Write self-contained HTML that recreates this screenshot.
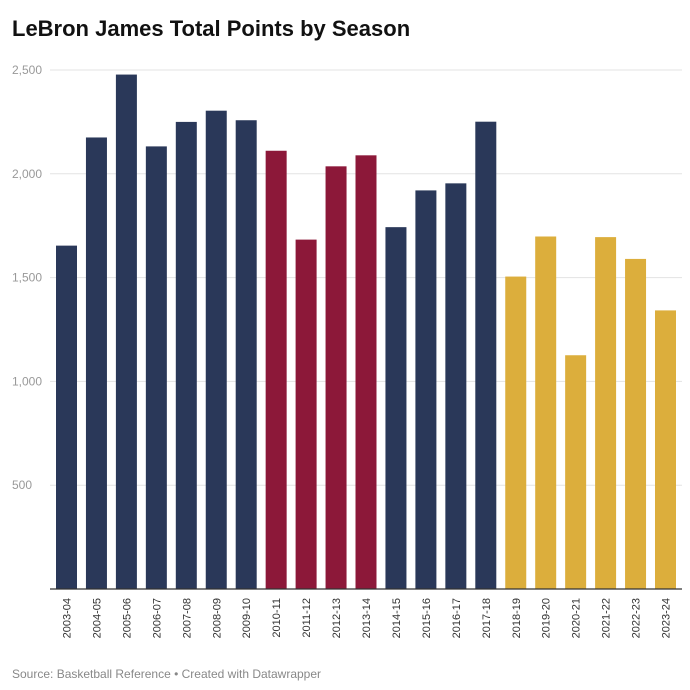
<!DOCTYPE html>
<html><head><meta charset="utf-8"><style>
body{margin:0;background:#fff;font-family:"Liberation Sans",sans-serif;}
#c{position:relative;width:690px;height:690px;overflow:hidden;}
</style></head><body>
<div id="c">
<svg id="svg" width="690" height="690">
<text x="12" y="36" font-size="22" font-weight="bold" fill="#111">LeBron James Total Points by Season</text>
<g id="grid"></g><g id="bars"></g><g id="xl"></g>
<line x1="50" x2="682" y1="589" y2="589" stroke="#333" stroke-width="1.2"/>
<text x="12" y="678" font-size="12" fill="#888">Source: Basketball Reference • Created with Datawrapper</text>
</svg></div>
<script>
const seasons=["2003-04","2004-05","2005-06","2006-07","2007-08","2008-09","2009-10","2010-11","2011-12","2012-13","2013-14","2014-15","2015-16","2016-17","2017-18","2018-19","2019-20","2020-21","2021-22","2022-23","2023-24"];
const points=[1654,2175,2478,2132,2250,2304,2258,2111,1683,2036,2089,1743,1920,1954,2251,1505,1698,1126,1695,1590,1342];
const teams=["CLE","CLE","CLE","CLE","CLE","CLE","CLE","MIA","MIA","MIA","MIA","CLE","CLE","CLE","CLE","LAL","LAL","LAL","LAL","LAL","LAL"];
const yTicks=[500,1000,1500,2000,2500];
const teamColor={CLE:"#2a3859",MIA:"#8c1839",LAL:"#dcae3c"};
const NS="http://www.w3.org/2000/svg";
const y=v=>589-v*(519/2500);
const x=i=>56+i*29.95;
const bw=21;
const grid=document.getElementById('grid'),bars=document.getElementById('bars'),xl=document.getElementById('xl');
yTicks.forEach(t=>{
 const l=document.createElementNS(NS,'line');
 
 
 l.setAttribute('x1',50);l.setAttribute('x2',682);l.setAttribute('y1',y(t));l.setAttribute('y2',y(t));
 l.setAttribute('stroke','#e3e3e3');grid.appendChild(l);
 const tx=document.createElementNS(NS,'text');
 
 
 tx.setAttribute('x',12);tx.setAttribute('y',y(t)+4);tx.setAttribute('font-size','12');tx.setAttribute('fill','#999');
 tx.textContent=t.toLocaleString('en-US');grid.appendChild(tx);
});
points.forEach((v,i)=>{
 const r=document.createElementNS(NS,'rect');
 
 
 r.setAttribute('x',x(i));r.setAttribute('y',y(v));r.setAttribute('width',bw);r.setAttribute('height',589-y(v));
 r.setAttribute('fill',teamColor[teams[i]]);bars.appendChild(r);
 const t=document.createElementNS(NS,'text');
 
 
 const cx=x(i)+bw/2+4;
 t.setAttribute('transform','translate('+cx+',598) rotate(-90)');
 t.setAttribute('text-anchor','end');t.setAttribute('font-size','11');t.setAttribute('fill','#333');
 t.textContent=seasons[i];xl.appendChild(t);
});
</script>
</body></html>
